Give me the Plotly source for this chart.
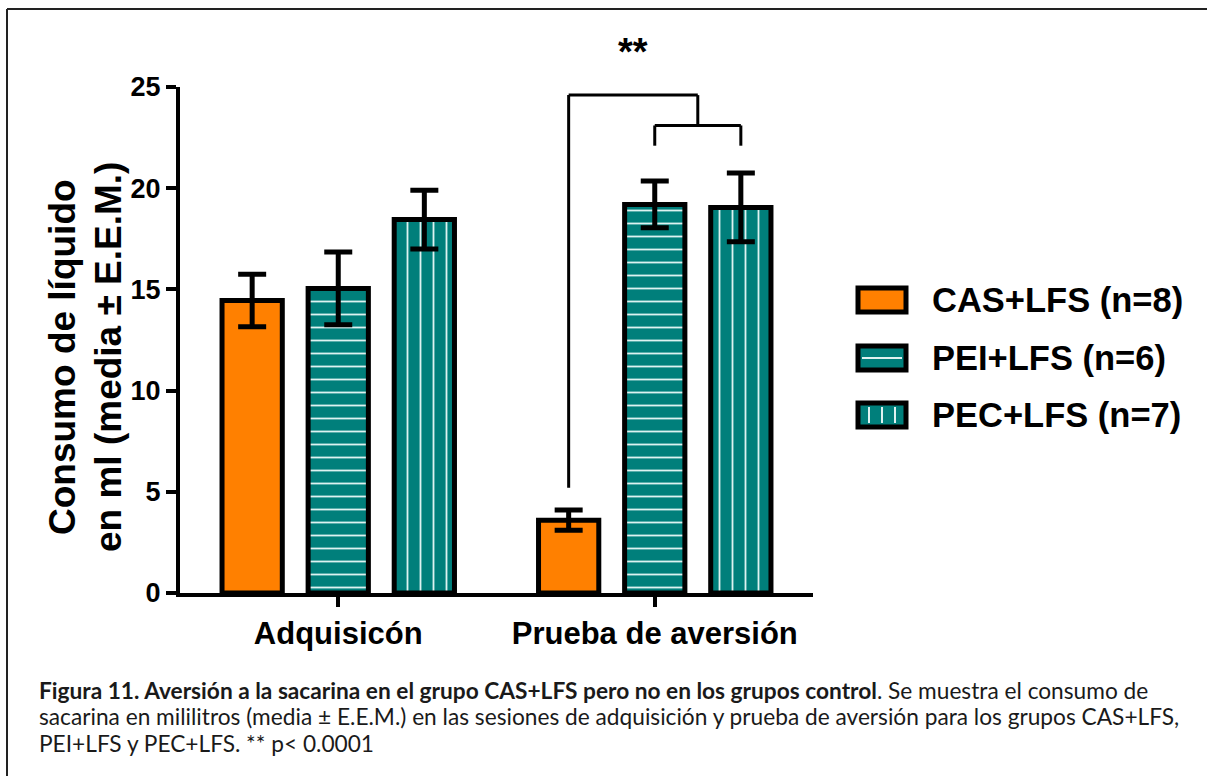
import plotly.graph_objects as go

# Sessions and groups
sessions = ["Adquisicón", "Prueba de aversión"]
groups = ["CAS+LFS (n=8)", "PEI+LFS (n=6)", "PEC+LFS (n=7)"]

# Mean consumption (ml) per group, one value per session
cas_mean = [14.45, 3.6]
pei_mean = [15.05, 19.2]
pec_mean = [18.45, 19.05]

# Standard error of the mean
cas_sem = [1.3, 0.5]
pei_sem = [1.8, 1.15]
pec_sem = [1.45, 1.7]

y_ticks = [0, 5, 10, 15, 20, 25]

ORANGE = "#FF8000"
TEAL = "#007F7B"
STRIPE = "#DDF2F1"

W, H = 1207, 776
PLOT_L, PLOT_R, PLOT_T, PLOT_B = 180, 813, 87, 593

BAR_FONT = "Liberation Sans, Arial, sans-serif"
CAP_FONT = "Lato, Carlito, sans-serif"

x_pos = list(range(len(sessions)))

fig = go.Figure()

series = [
    (groups[0], cas_mean, cas_sem, dict(color=ORANGE)),
    (groups[1], pei_mean, pei_sem,
     dict(color=TEAL, pattern=dict(shape="-", fgcolor=STRIPE, bgcolor=TEAL,
                                    size=13, solidity=0.14, fillmode="replace"))),
    (groups[2], pec_mean, pec_sem,
     dict(color=TEAL, pattern=dict(shape="|", fgcolor=STRIPE, bgcolor=TEAL,
                                    size=13, solidity=0.14, fillmode="replace"))),
]

for name, means, sems, mk in series:
    fig.add_trace(go.Bar(
        x=x_pos, y=means, name=name,
        marker=dict(line=dict(color="black", width=5), **mk),
        error_y=dict(type="data", array=sems, visible=True,
                     color="black", thickness=5, width=14),
        showlegend=False,
    ))

bargap = 0.184
slot = (1 - bargap) / 3


def px_x(p):
    return (p - PLOT_L) / (PLOT_R - PLOT_L)


def px_y(p):
    return (PLOT_B - p) / (PLOT_B - PLOT_T)


shapes = []
annotations = []

# Significance bracket: CAS+LFS vs the two control groups in the aversion test
cas_x = 1 - slot
pei_x = 1
pec_x = 1 + slot
mid_ctrl = (pei_x + pec_x) / 2
top_y = 24.6
sub_y = 23.1
sub_end = 22.1
start_y = cas_mean[1] + cas_sem[1] + 1.1
br = dict(type="line", xref="x", yref="y", line=dict(color="black", width=3))
shapes += [
    dict(br, x0=cas_x, x1=cas_x, y0=start_y, y1=top_y),
    dict(br, x0=cas_x, x1=mid_ctrl, y0=top_y, y1=top_y),
    dict(br, x0=mid_ctrl, x1=mid_ctrl, y0=top_y, y1=sub_y),
    dict(br, x0=pei_x, x1=pec_x, y0=sub_y, y1=sub_y),
    dict(br, x0=pei_x, x1=pei_x, y0=sub_y, y1=sub_end),
    dict(br, x0=pec_x, x1=pec_x, y0=sub_y, y1=sub_end),
]
annotations.append(dict(
    x=(cas_x + mid_ctrl) / 2, y=px_y(52), xref="x", yref="paper",
    text="<b>**</b>", showarrow=False,
    font=dict(family=BAR_FONT, size=38, color="black"),
    xanchor="center", yanchor="middle",
))

# Legend drawn as boxed swatches
leg_x0, leg_x1 = 858, 906
leg_rows = [300, 358, 415]
leg_h = 24
for i, (name, cy) in enumerate(zip(groups, leg_rows)):
    fill = ORANGE if i == 0 else TEAL
    shapes.append(dict(type="rect", xref="paper", yref="paper",
                       x0=px_x(leg_x0), x1=px_x(leg_x1),
                       y0=px_y(cy + leg_h / 2), y1=px_y(cy - leg_h / 2),
                       fillcolor=fill, line=dict(color="black", width=5)))
    if i == 1:
        shapes.append(dict(type="line", xref="paper", yref="paper",
                           x0=px_x(leg_x0 + 4), x1=px_x(leg_x1 - 4),
                           y0=px_y(cy), y1=px_y(cy),
                           line=dict(color=STRIPE, width=2)))
    if i == 2:
        for dx in (-13, 0, 13):
            xc = (leg_x0 + leg_x1) / 2 + dx
            shapes.append(dict(type="line", xref="paper", yref="paper",
                               x0=px_x(xc), x1=px_x(xc),
                               y0=px_y(cy - leg_h / 2 + 4), y1=px_y(cy + leg_h / 2 - 4),
                               line=dict(color=STRIPE, width=2)))
    annotations.append(dict(
        x=px_x(930), y=px_y(cy), xref="paper", yref="paper",
        text=f"<b>{name}</b>", showarrow=False, xanchor="left", yanchor="middle",
        font=dict(family=BAR_FONT, size=34.5, color="black"),
    ))

# Y axis title (two rotated lines)
for txt, cx in (("Consumo de líquido", 62), ("en ml (media ± E.E.M.)", 108)):
    annotations.append(dict(
        x=px_x(cx), y=px_y(357), xref="paper", yref="paper",
        text=f"<b>{txt}</b>", textangle=-90, showarrow=False,
        xanchor="center", yanchor="middle",
        font=dict(family=BAR_FONT, size=37, color="black"),
    ))

# Figure caption
cap_lines = [
    "<b>Figura 11. Aversión a la sacarina en el grupo CAS+LFS pero no en los grupos control</b>. "
    "Se muestra el consumo de",
    "sacarina en mililitros (media ± E.E.M.) en las sesiones de adquisición y prueba de aversión "
    "para los grupos CAS+LFS,",
    "PEI+LFS y PEC+LFS. ** p< 0.0001",
]
for j, line in enumerate(cap_lines):
    annotations.append(dict(
        x=px_x(37), y=px_y(690 + 26.5 * j), xref="paper", yref="paper",
        text=line, showarrow=False, xanchor="left", yanchor="middle",
        font=dict(family=CAP_FONT, size=22.7, color="#1a1a1a"),
    ))

# Outer frame (top and left edges)
frame = dict(type="line", xref="paper", yref="paper", line=dict(color="#222", width=2))
shapes += [
    dict(frame, x0=px_x(7), x1=px_x(W + 5), y0=px_y(9), y1=px_y(9)),
    dict(frame, x0=px_x(7), x1=px_x(7), y0=px_y(9), y1=px_y(H + 5)),
]

fig.update_layout(
    width=W, height=H,
    margin=dict(l=PLOT_L, r=W - PLOT_R, t=PLOT_T, b=H - PLOT_B, pad=0),
    paper_bgcolor="white", plot_bgcolor="white",
    barmode="group", bargap=bargap, bargroupgap=0.3,
    shapes=shapes, annotations=annotations,
    xaxis=dict(
        range=[-0.5, 1.5], tickvals=x_pos,
        ticktext=[f"<b>{s}</b>" for s in sessions],
        showline=True, linecolor="black", linewidth=4,
        ticks="outside", ticklen=10, tickwidth=4, tickcolor="black",
        tickfont=dict(family=BAR_FONT, size=31, color="black"),
        showgrid=False, zeroline=False,
    ),
    yaxis=dict(
        range=[0, 25], tickvals=y_ticks,
        ticktext=[f"<b>{v}</b>" for v in y_ticks],
        showline=True, linecolor="black", linewidth=4,
        ticks="outside", ticklen=10, tickwidth=4, tickcolor="black",
        tickfont=dict(family=BAR_FONT, size=27, color="black"),
        showgrid=False, zeroline=False,
    ),
)

fig.write_html("out.html")
